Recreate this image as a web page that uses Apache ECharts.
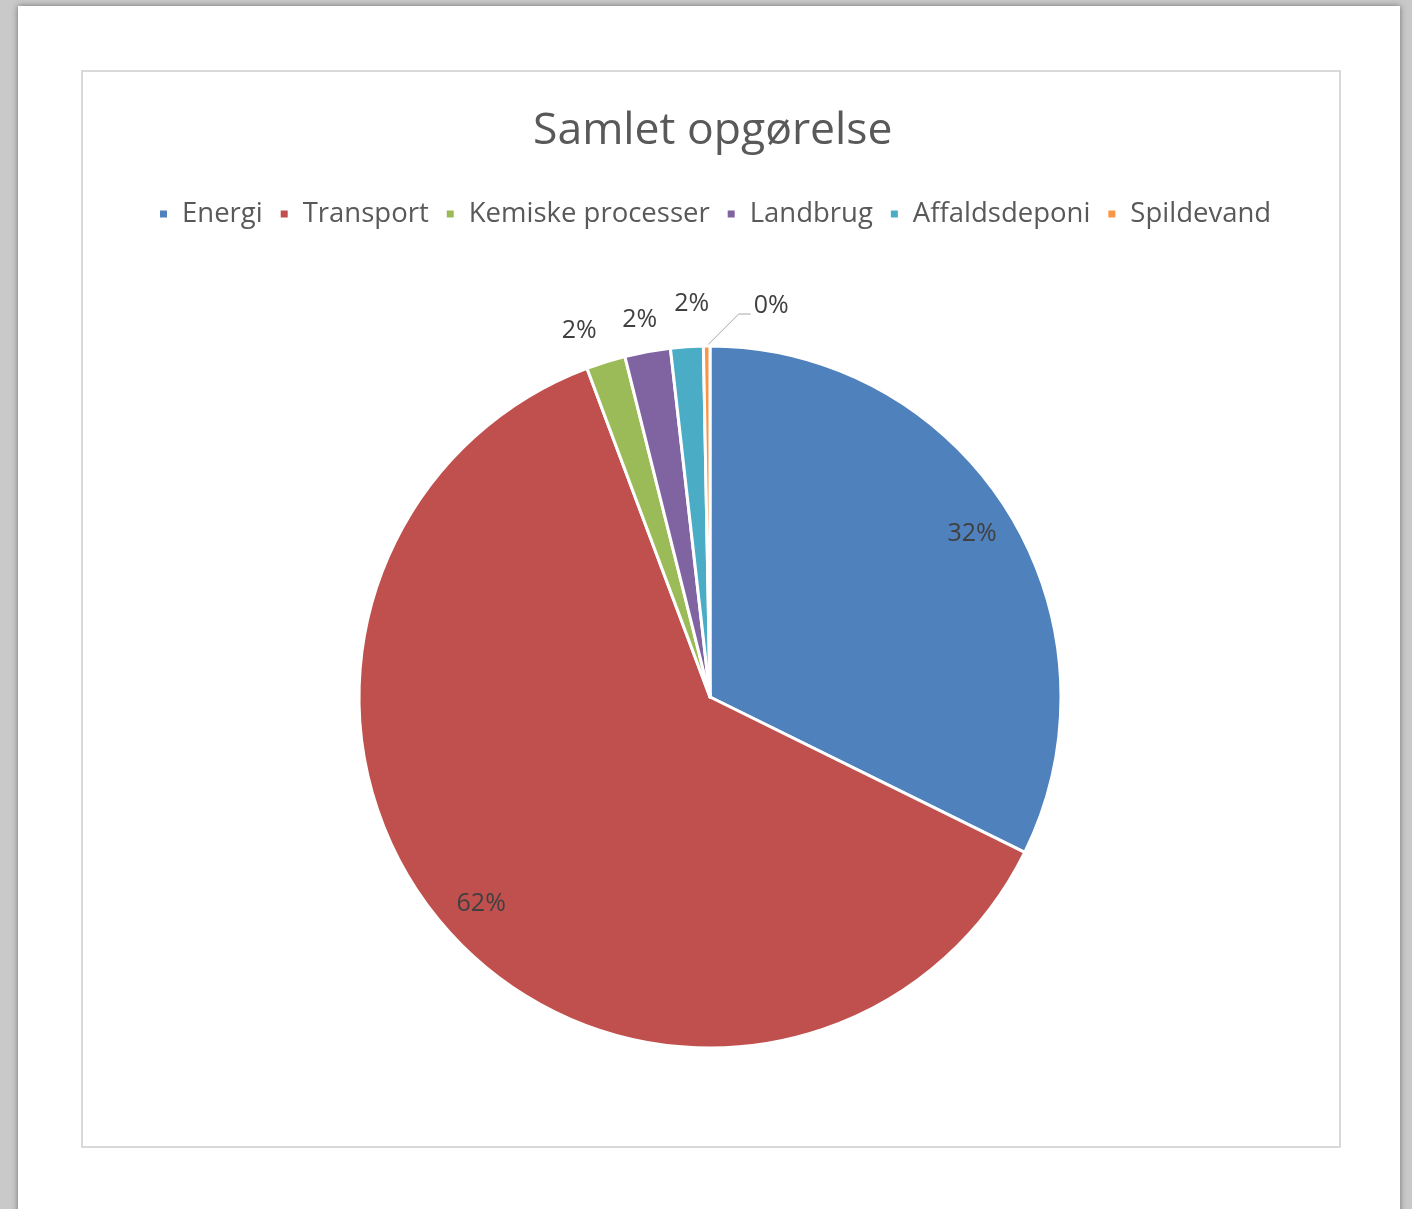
<!DOCTYPE html>
<html>
<head>
<meta charset="utf-8">
<script src="https://cdn.jsdelivr.net/npm/echarts@6/dist/echarts.min.js"></script>
<style>
html,body{margin:0;padding:0;background:#c8c9c8;}
#main{width:1412px;height:1209px;}
</style>
</head>
<body>
<div id="main"></div>
<script>
// data (percent shares)
var categories = ['Energi', 'Transport', 'Kemiske processer', 'Landbrug', 'Affaldsdeponi', 'Spildevand'];
var shares = [32.3, 62.0, 1.8, 2.1, 1.5, 0.3];
var colors = ['#4f81bd', '#c0504d', '#9bbb59', '#8064a2', '#4bacc6', '#f79646'];
var bigSlices = [0, 1]; // labelled inside
// small nudges so the tiny-slice labels spread out like Excel's best fit
var labelNudge = [[0, 0], [0, 0], [0, 0], [15, 0], [24, -11], [0, 0]];

var font = '"Open Sans", "Noto Sans", sans-serif';

var mainData = categories.map(function (c, i) {
    var inside = bigSlices.indexOf(i) >= 0;
    return {
        name: c,
        value: shares[i],
        itemStyle: {color: colors[i]},
        label: {show: !inside},
        labelLine: {show: i === 5}
    };
});
// overlay ring only carries the inside labels (Excel puts them near the rim)
var labelData = categories.map(function (c, i) {
    return {
        name: c,
        value: shares[i],
        label: {show: bigSlices.indexOf(i) >= 0}
    };
});

var chart = echarts.init(document.getElementById('main'));
chart.setOption({
    backgroundColor: '#c8c9c8',
    animation: false,
    graphic: [
        {type: 'rect', shape: {x: 18, y: 6, width: 1382, height: 1220},
         style: {fill: '#fff', shadowBlur: 6, shadowColor: 'rgba(0,0,0,0.45)'}, z: -10},
        {type: 'rect', shape: {x: 82, y: 71, width: 1258, height: 1076},
         style: {fill: '#fff', stroke: '#d9d9d9', lineWidth: 2}, z: -9}
    ],
    title: {
        text: 'Samlet opgørelse',
        left: 528,
        top: 104,
        textStyle: {fontFamily: font, fontSize: 44.5, fontWeight: 'normal', color: '#595959'}
    },
    legend: {
        data: categories,
        top: 195,
        left: 153,
        icon: 'rect',
        itemWidth: 9,
        itemHeight: 9,
        itemGap: 16,
        textStyle: {fontFamily: font, fontSize: 27.5, color: '#595959', padding: [0, 0, 0, 9]}
    },
    series: [{
        name: 'Samlet opgørelse',
        type: 'pie',
        center: [710, 697],
        radius: [0, 351],
        startAngle: 90,
        clockwise: true,
        avoidLabelOverlap: false,
        itemStyle: {borderColor: '#fff', borderWidth: 3},
        emphasis: {disabled: true},
        label: {
            position: 'outside',
            formatter: function (p) { return Math.round(p.value) + '%'; },
            fontFamily: font, fontSize: 25, color: '#404040'
        },
        labelLine: {length: 32, length2: 12, lineStyle: {color: '#a6a6a6', width: 1}},
        labelLayout: function (p) {
            if (p.dataIndex === 5 && p.labelLinePoints) {
                var pts = p.labelLinePoints;
                var x0 = pts[0][0], y0 = pts[0][1], y1 = pts[1][1];
                // mirror to the right side, with a diagonal first segment
                var p1 = [x0 + (y0 - y1), y1];
                var p2 = [p1[0] + 12, y1];
                return {
                    x: p2[0] + 3,
                    y: p2[1] - 8,
                    align: 'left',
                    verticalAlign: 'middle',
                    labelLinePoints: [pts[0], p1, p2]
                };
            }
            var n = labelNudge[p.dataIndex];
            return {align: 'center', verticalAlign: 'middle', dx: n[0], dy: n[1]};
        },
        data: mainData
    }, {
        name: 'labels',
        type: 'pie',
        center: [710, 697],
        radius: [260, 351],
        startAngle: 90,
        clockwise: true,
        silent: true,
        legendHoverLink: false,
        itemStyle: {color: 'rgba(0,0,0,0)', borderWidth: 0},
        label: {
            position: 'inside',
            formatter: function (p) { return Math.round(p.value) + '%'; },
            fontFamily: font, fontSize: 25, color: '#404040'
        },
        labelLine: {show: false},
        data: labelData
    }]
});
</script>
</body>
</html>
